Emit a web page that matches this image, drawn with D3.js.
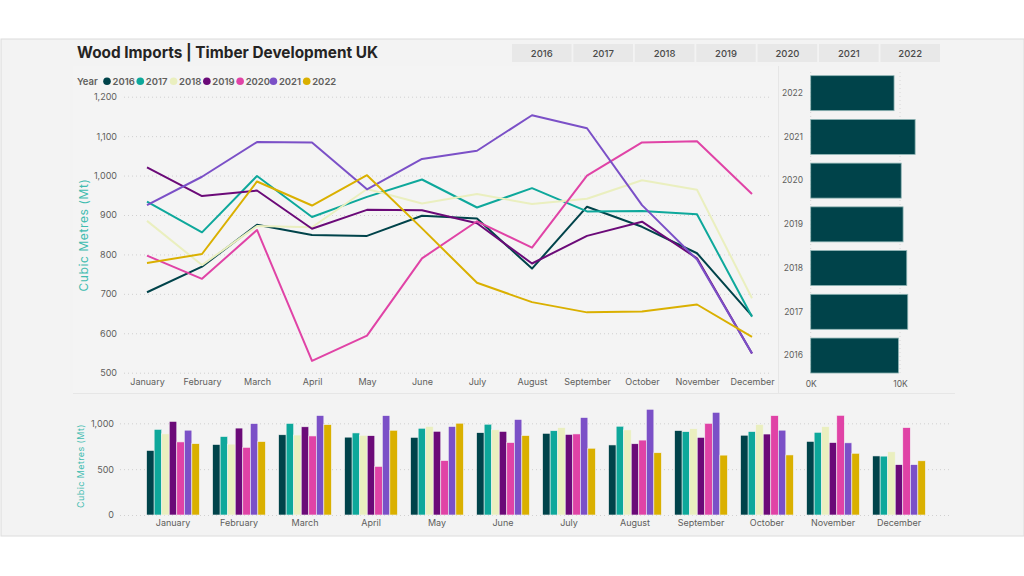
<!DOCTYPE html>
<html>
<head>
<meta charset="utf-8">
<script src="https://cdn.jsdelivr.net/npm/d3@7"></script>
<style>
  body { margin: 0; background: #fff; }
  svg { display: block; font-family: Inter, "Noto Sans", sans-serif; }
</style>
</head>
<body>
<div id="chart"></div>
<script>
const months = ["January", "February", "March", "April", "May", "June",
    "July", "August", "September", "October", "November", "December"];
const years = ["2016", "2017", "2018", "2019", "2020", "2021", "2022"];
const colors = ["#00434a", "#0ea89b", "#eaefbf", "#6b0a78", "#e043a6", "#7b50c7", "#dab000"];

// monthly imports, thousand cubic metres
const v2016 = [704, 769, 875, 849, 847, 898, 891, 764, 921, 870, 803, 644];
const v2017 = [934, 856, 999, 895, 946, 990, 919, 968, 909, 910, 902, 642];
const v2018 = [885, 773, 872, 869, 966, 929, 953, 928, 941, 988, 964, 689];
const v2019 = [1021, 948, 962, 865, 913, 912, 879, 777, 847, 883, 790, 549];
const v2020 = [797, 738, 862, 530, 594, 790, 884, 817, 1000, 1084, 1087, 953];
const v2021 = [925, 997, 1085, 1084, 965, 1042, 1063, 1153, 1120, 925, 787, 549];
const v2022 = [778, 801, 985, 924, 1001, 866, 728, 679, 653, 655, 673, 591];

const lineTicks = [500, 600, 700, 800, 900, 1000, 1100, 1200];
const barTicks = [0, 500, 1000];
const totalTicks = [0, 10000];

const series = [v2016, v2017, v2018, v2019, v2020, v2021, v2022].map((vals, i) => ({
    year: years[i],
    color: colors[i],
    values: vals.map((v, j) => ({ month: months[j], value: v }))
}));

const W = 1024, H = 576;
const axisGrey = "#605e5c";
const teal = "#3fbcb0";

const svg = d3.select("#chart").append("svg")
    .attr("width", W).attr("height", H);

// report canvas
svg.append("rect").attr("x", 1).attr("y", 39).attr("width", 1023).attr("height", 497)
    .attr("fill", "#f3f3f3").attr("stroke", "#dcdcdc");
svg.append("rect").attr("x", 73).attr("y", 66).attr("width", 705).attr("height", 327)
    .attr("fill", "#f4f4f4");
svg.append("line").attr("x1", 73).attr("x2", 955).attr("y1", 393.5).attr("y2", 393.5)
    .attr("stroke", "#e6e6e6");
svg.append("line").attr("x1", 778.5).attr("x2", 778.5).attr("y1", 66).attr("y2", 393)
    .attr("stroke", "#e6e6e6");

// title
svg.append("text").attr("x", 77).attr("y", 58)
    .attr("font-size", 15.5).attr("font-weight", 700).attr("fill", "#252423")
    .attr("textLength", 301).attr("lengthAdjust", "spacingAndGlyphs")
    .text("Wood Imports | Timber Development UK");

// year slicer
const slicer = d3.scaleBand().domain(years).range([512, 940]).paddingInner(0.03);
const btn = svg.append("g").selectAll("g").data(years).join("g");
btn.append("rect")
    .attr("x", d => slicer(d)).attr("y", 44)
    .attr("width", slicer.bandwidth()).attr("height", 18)
    .attr("fill", "#e8e8e8");
btn.append("text")
    .attr("x", d => slicer(d) + slicer.bandwidth() / 2).attr("y", 56.5)
    .attr("text-anchor", "middle").attr("font-size", 9.5).attr("fill", "#4a4a4a")
    .attr("font-weight", 500)
    .text(d => d);

// legend
const legend = svg.append("g").attr("font-size", 9.5);
legend.append("text").attr("x", 77).attr("y", 84.5).attr("fill", axisGrey)
    .attr("font-weight", 600).text("Year");
const legX = d3.scaleBand().domain(years).range([103, 336]);
const li = legend.selectAll("g.item").data(series).join("g").attr("class", "item");
li.append("circle").attr("cx", d => legX(d.year) + 4).attr("cy", 81.2).attr("r", 3.8)
    .attr("fill", d => d.color);
li.append("text").attr("x", d => legX(d.year) + 9.5).attr("y", 84.5)
    .attr("fill", axisGrey).attr("font-weight", 600).text(d => d.year);

// ---- line chart ----
const x = d3.scalePoint().domain(months).range([147, 752]);
const y = d3.scaleLinear().domain([500, 1200]).range([372.7, 96.7]);

const gy = svg.append("g").attr("transform", "translate(124,0)")
    .call(d3.axisLeft(y).tickValues(lineTicks).tickSize(-648).tickPadding(7).tickFormat(d3.format(",")));
gy.select(".domain").remove();
gy.selectAll(".tick line").attr("stroke", "#d0d0d0").attr("stroke-dasharray", "1,3");
gy.selectAll(".tick text").attr("fill", axisGrey).attr("font-size", 9).attr("font-family", "Inter, sans-serif");

const gx = svg.append("g").attr("transform", "translate(0,372)")
    .call(d3.axisBottom(x).tickSize(0).tickPadding(7));
gx.select(".domain").remove();
gx.selectAll(".tick text").attr("fill", axisGrey).attr("font-size", 9).attr("font-family", "Inter, sans-serif");

svg.append("text")
    .attr("transform", "translate(88,235) rotate(-90)")
    .attr("text-anchor", "middle").attr("font-size", 12).attr("fill", teal)
    .attr("letter-spacing", 0.6)
    .text("Cubic Metres (Mt)");

const line = d3.line().x(d => x(d.month)).y(d => y(d.value));
svg.append("g").selectAll("path").data(series).join("path")
    .attr("d", d => line(d.values))
    .attr("fill", "none").attr("stroke", d => d.color)
    .attr("stroke-width", 2).attr("stroke-linejoin", "round");

// ---- annual totals ----
const totals = series.map(s => ({ year: s.year, total: d3.sum(s.values, d => d.value) }));
const tx = d3.scaleLinear().domain([0, 10000]).range([810.7, 900]);
const ty = d3.scaleBand().domain(years.slice().reverse()).range([71.3, 377.4]).paddingInner(0.2).paddingOuter(0.1);

svg.append("g").selectAll("line").data(totalTicks).join("line")
    .attr("x1", d => tx(d)).attr("x2", d => tx(d)).attr("y1", 72).attr("y2", 374)
    .attr("stroke", "#d6d6d6").attr("stroke-dasharray", "1,3");

svg.append("g").selectAll("rect").data(totals).join("rect")
    .attr("x", tx(0)).attr("y", d => ty(d.year))
    .attr("width", d => tx(d.total) - tx(0)).attr("height", ty.bandwidth())
    .attr("fill", "#00434a").attr("stroke", "#8fb5b5").attr("stroke-width", 0.8);

const gty = svg.append("g").attr("transform", "translate(810,0)")
    .call(d3.axisLeft(ty).tickSize(0).tickPadding(7));
gty.select(".domain").remove();
gty.selectAll(".tick text").attr("fill", axisGrey).attr("font-size", 8.5).attr("font-family", "Inter, sans-serif");

const gtx = svg.append("g").attr("transform", "translate(0,375)")
    .call(d3.axisBottom(tx).tickValues(totalTicks).tickSize(0).tickPadding(6).tickFormat(d => d / 1000 + "K"));
gtx.select(".domain").remove();
gtx.selectAll(".tick text").attr("fill", axisGrey).attr("font-size", 8.5).attr("font-family", "Inter, sans-serif");

// ---- monthly clustered bars ----
const bx = d3.scaleBand().domain(months).range([140, 932]).paddingInner(0.2).paddingOuter(0.1);
const bsub = d3.scaleBand().domain(years).range([0, bx.bandwidth()]);
const by = d3.scaleLinear().domain([0, 1000]).range([515, 423.3]);

const gby = svg.append("g").attr("transform", "translate(120,0)")
    .call(d3.axisLeft(by).tickValues(barTicks).tickSize(-830).tickPadding(6).tickFormat(d3.format(",")));
gby.select(".domain").remove();
gby.selectAll(".tick line").attr("stroke", "#d0d0d0").attr("stroke-dasharray", "1,3");
gby.selectAll(".tick text").attr("fill", axisGrey).attr("font-size", 9).attr("font-family", "Inter, sans-serif");

const month = svg.append("g").selectAll("g").data(months).join("g")
    .attr("transform", d => `translate(${bx(d)},0)`);
month.selectAll("rect")
    .data((m, j) => series.map(s => ({ year: s.year, color: s.color, value: s.values[j].value })))
    .join("rect")
    .attr("x", d => bsub(d.year)).attr("width", bsub.bandwidth())
    .attr("y", d => by(d.value)).attr("height", d => by(0) - by(d.value))
    .attr("fill", d => d.color).attr("stroke", "#f3f3f3").attr("stroke-width", 0.6);

const gbx = svg.append("g").attr("transform", "translate(0,515)")
    .call(d3.axisBottom(bx).tickSize(0).tickPadding(5));
gbx.select(".domain").remove();
gbx.selectAll(".tick text").attr("fill", axisGrey).attr("font-size", 9).attr("font-family", "Inter, sans-serif");

svg.append("text")
    .attr("transform", "translate(84,466) rotate(-90)")
    .attr("text-anchor", "middle").attr("font-size", 9).attr("fill", teal)
    .attr("letter-spacing", 0.4)
    .text("Cubic Metres (Mt)");
</script>
</body>
</html>
